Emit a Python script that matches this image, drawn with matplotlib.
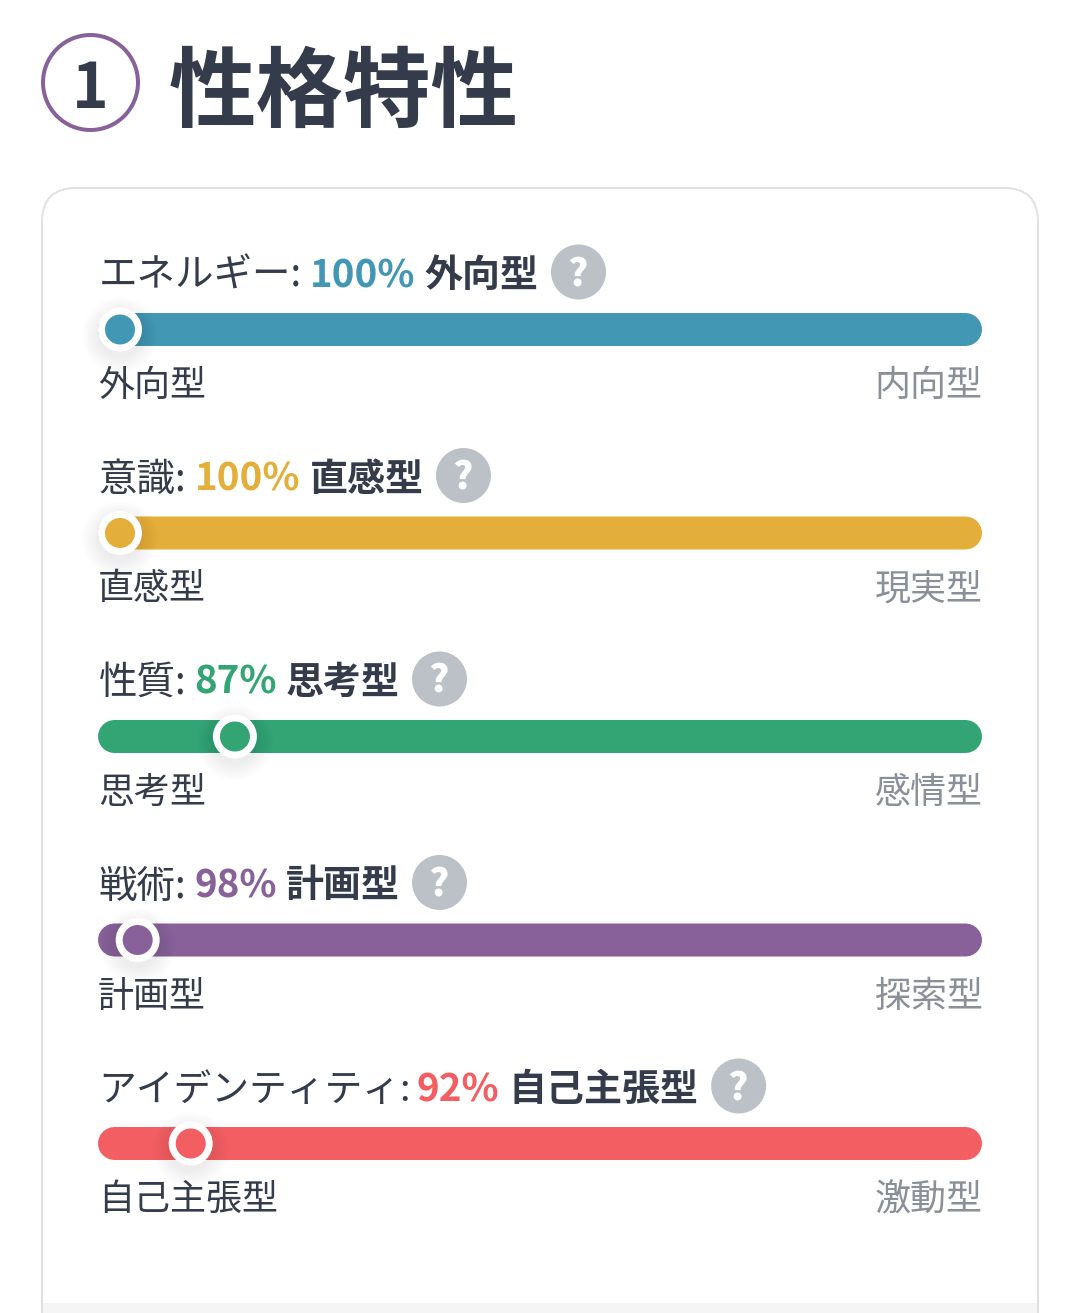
import matplotlib
matplotlib.use("Agg")
import matplotlib.pyplot as plt
from matplotlib.patches import Circle, FancyBboxPatch, Rectangle

plt.rcParams['font.family'] = ['Noto Sans CJK JP', 'DejaVu Sans']

# data
title = "性格特性"
section_no = "1"
traits = ["エネルギー", "意識", "性質", "戦術", "アイデンティティ"]
percents = [100, 100, 87, 98, 92]
left_labels = ["外向型", "直感型", "思考型", "計画型", "自己主張型"]
right_labels = ["内向型", "現実型", "感情型", "探索型", "激動型"]
colors = ["#4298b4", "#e4ae3a", "#33a474", "#88619a", "#f25e62"]

DARK = "#343c4b"
GREY = "#8a9099"
PX = 0.72   # points per pixel at dpi 100

# where the percent starts on each row, the kana in the reference run tighter
pct_x = [310, 195, 194, 194, 417]

fig = plt.figure(figsize=(10.8, 13.13), dpi=100)
ax = fig.add_axes([0, 0, 1, 1])
ax.set_xlim(0, 1080)
ax.set_ylim(1313, 0)
ax.axis("off")


def put(x, y, s, px, color, weight="normal", ha="left"):
    """text at baseline y, font size given in pixels; returns the right edge"""
    t = ax.text(x, y, s, fontsize=px * PX, color=color, fontweight=weight,
                ha=ha, va="baseline")
    bbox = t.get_window_extent(fig.canvas.get_renderer())
    return bbox.x1


# card and grey strip under it
ax.add_patch(FancyBboxPatch((42, 188), 996, 1300, boxstyle="round,pad=0,rounding_size=34",
                            fc="white", ec="#dfe1e4", lw=2 * PX))
ax.add_patch(Rectangle((43, 1303), 994, 10, fc="#f5f5f5", ec="none"))

# heading
ax.add_patch(Circle((90.5, 82.5), 47.5, fc="none", ec=colors[3], lw=4 * PX))
put(90.5, 108, section_no, 62, DARK, "bold", ha="center")
put(169, 120, title, 87.5, DARK, "bold")

for i in range(len(traits)):
    c = colors[i]
    yb = 329.5 + i * 203.5

    # title row of this bar
    yt = yb - 42.5
    put(98.5, yt, traits[i] + ":", 38.5 if i < 4 else 37.8, DARK)
    x = put(pct_x[i], yt, f"{percents[i]}%", 38.5, c, "bold")
    x = put(x + 9, yt, left_labels[i], 38, DARK, "bold")
    qx = x + 40
    ax.add_patch(Circle((qx, yb - 57.5), 27.5, fc="#bcc1c8", ec="none"))
    ax.text(qx - 1, yb - 44.5, "?", fontsize=38 * PX, color="white", fontweight="black",
            ha="center", va="baseline")

    # bar
    ax.plot([98 + 16.5, 982 - 16.5], [yb, yb], color=c, lw=33 * PX,
            solid_capstyle="round", snap=False)

    # thumb with a soft shadow
    tx = 120 + (100 - percents[i]) / 100 * 884
    for r in range(38, 20, -2):
        ax.add_patch(Circle((tx, yb + 6), r, fc="black", ec="none", alpha=0.008, zorder=3))
    ax.add_patch(Circle((tx, yb), 22, fc="white", ec="none", zorder=3))
    ax.add_patch(Circle((tx, yb), 15, fc=c, ec="none", zorder=3))

    # end labels
    put(98, yb + 66.5, left_labels[i], 36, DARK)
    put(982.5, yb + 66.5, right_labels[i], 36, GREY, ha="right")

fig.savefig("out.png", dpi=100)
